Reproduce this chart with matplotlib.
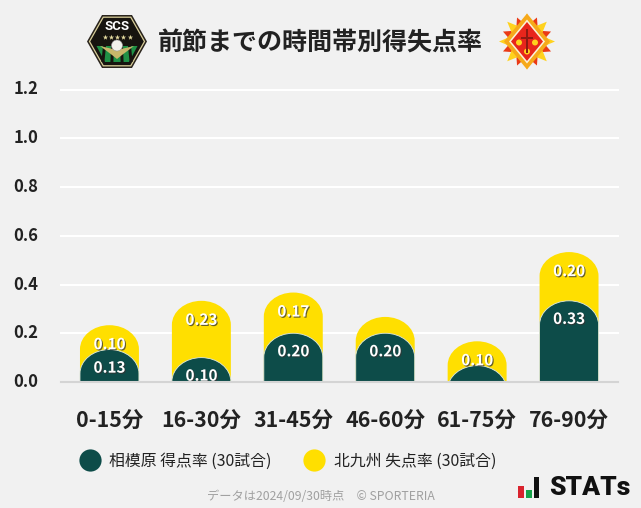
import matplotlib
matplotlib.use("Agg")
import matplotlib.pyplot as plt
import matplotlib.patheffects as pe
from matplotlib.path import Path
from matplotlib.patches import Polygon, Rectangle, Circle
from matplotlib.lines import Line2D
import numpy as np

categories = ["0-15分", "16-30分", "31-45分", "46-60分", "61-75分", "76-90分"]
scored = [0.133, 0.10, 0.20, 0.20, 0.067, 0.333]
conceded = [0.10, 0.233, 0.167, 0.067, 0.10, 0.20]
y_ticks = [0.0, 0.2, 0.4, 0.6, 0.8, 1.0, 1.2]
scored_label = "相模原 得点率 (30試合)"
conceded_label = "北九州 失点率 (30試合)"
title = "前節までの時間帯別得失点率"
footer = "データは2024/09/30時点　© SPORTERIA"

BG = "#f1f1f1"
DARK = "#0d4c49"
YEL = "#ffdf00"
TXT = "#222222"
FONT = ["Noto Sans CJK JP", "DejaVu Sans"]
plt.rcParams["font.family"] = FONT

W, H = 641, 508
fig = plt.figure(figsize=(W / 100, H / 100), dpi=100, facecolor=BG)
ax = fig.add_axes([61 / W, 1 - 382 / H, 557 / W, (382 - 89.5) / H], facecolor="none")

x = np.arange(len(categories))
totals = np.array(scored) + np.array(conceded)
CAP = 24 / (292.5 / 1.2)  # height of the rounded top, in data units


def round_top(bars):
    """Give each bar an elliptical top, keeping it a real bar on the axes."""
    k = 0.5523
    for r in bars:
        c = CAP / r.get_height()
        b = 1 - c
        verts = [(0, 0), (0, b), (0, b + k * c), (0.5 - 0.5 * k, 1), (0.5, 1),
                 (0.5 + 0.5 * k, 1), (1, b + k * c), (1, b), (1, 0), (0, 0)]
        codes = [Path.MOVETO, Path.LINETO, Path.CURVE4, Path.CURVE4, Path.CURVE4,
                 Path.CURVE4, Path.CURVE4, Path.CURVE4, Path.LINETO, Path.CLOSEPOLY]
        p = Path(verts, codes)
        r.get_path = (lambda q: (lambda: q))(p)


bw = 59 / 92
b_y = ax.bar(x, totals, bw, color=YEL, linewidth=0, zorder=2)
b_d = ax.bar(x, scored, bw, color=DARK, edgecolor="#dfe8dc", linewidth=0.6, zorder=3)
round_top(b_y)
round_top(b_d)

shadow = [pe.withSimplePatchShadow(offset=(0.8, -0.8), shadow_rgbFace="#333333", alpha=0.75)]
for xi, top, v in zip(x, totals, conceded):
    if v >= 0.1:
        ax.annotate(f"{v:.2f}", (xi, top), xytext=(0, -13.7), textcoords="offset points",
                    ha="center", va="center", color="white", fontsize=11, fontweight="bold",
                    path_effects=shadow, zorder=4, annotation_clip=False)
for xi, top, v in zip(x, scored, scored):
    if v >= 0.1:
        ax.annotate(f"{v:.2f}", (xi, top), xytext=(0, -13), textcoords="offset points",
                    ha="center", va="center", color="white", fontsize=11, fontweight="bold",
                    path_effects=shadow, zorder=5, annotation_clip=False)

ax.set_xlim(-48.5 / 92, 5 + 49 / 92)
ax.set_ylim(0, 1.2)
ax.set_yticks(y_ticks, [f"{t:.1f}" for t in y_ticks], fontsize=12, fontweight="bold", color=TXT)
ax.set_xticks(x, categories, fontsize=15.4, fontweight="bold", color=TXT)
ax.tick_params(axis="both", length=0)
ax.tick_params(axis="y", pad=16.5)
ax.tick_params(axis="x", pad=20.7)
for lab in ax.get_yticklabels():
    lab.set_va("center")
ax.yaxis.grid(True, color="white", linewidth=1.5, clip_on=False, zorder=1)
ax.set_axisbelow(True)
for s in ("top", "left", "right"):
    ax.spines[s].set_visible(False)
ax.spines["bottom"].set_color("#d4d4d4")
ax.spines["bottom"].set_linewidth(1.5)
ax.spines["bottom"].set_zorder(6)

handles = [Line2D([], [], ls="", marker="o", ms=16, color=DARK, mew=0, label=scored_label),
           Line2D([], [], ls="", marker="o", ms=16, color=YEL, mew=0, label=conceded_label)]
fig.legend(handles=handles, loc="center left", bbox_to_anchor=(77 / W, 1 - 461 / H), ncol=2,
           frameon=False, fontsize=11.4, labelcolor=TXT, handlelength=1.6, handletextpad=0.45,
           columnspacing=1.85, borderpad=0, borderaxespad=0)

fig.text(320.5 / W, 1 - 43 / H, title, ha="center", va="center", fontsize=18, fontweight="bold", color=TXT)
fig.text(321 / W, 1 - 496.5 / H, footer, ha="center", va="center", fontsize=8.8, color="#a0a0a0")

# Overlay in pixel coordinates for the two club crests and the brand mark
ov = fig.add_axes([0, 0, 1, 1], facecolor="none", zorder=-1)
ov.set_xlim(0, W)
ov.set_ylim(H, 0)
ov.axis("off")


def hexagon(cx, cy, rx, ry, inset=0.25):
    return [(cx - rx, cy), (cx - rx * 2 * inset, cy - ry), (cx + rx * 2 * inset, cy - ry),
            (cx + rx, cy), (cx + rx * 2 * inset, cy + ry), (cx - rx * 2 * inset, cy + ry)]


ov.add_patch(Polygon(hexagon(117, 41.5, 30, 26.5), fc="#2a241d", ec="none"))
ov.add_patch(Polygon(hexagon(117, 41.5, 27.5, 24.3), fc="#17140f", ec="#d9cf9a", lw=0.9))
ov.add_patch(Polygon([(96.5, 46), (137.5, 46), (129, 62), (105, 62)], fc="#1f9146", ec="none"))
for sx, dx in ((103, -1.6), (111, -0.6), (120, 0.6), (128, 1.6)):
    ov.add_patch(Polygon([(sx, 46), (sx + 3, 46), (sx + 3 + dx, 62), (sx + dx, 62)], fc="#17140f", ec="none"))
ov.add_patch(Polygon([(100, 46), (117, 50), (134, 46), (122, 55), (117, 59), (112, 55)], fc="#c8b66a", ec="none"))
ov.add_patch(Circle((117, 45.5), 5.5, fc="#f1f1ea", ec="#999999", lw=0.4))
ov.text(117, 26, "SCS", ha="center", va="center", fontsize=9.5, fontweight="bold",
        color="white", family="Roboto")
ov.scatter([104.5, 110.7, 117, 123.3, 129.5], [37] * 5, marker="*", s=16, c="#e6dca0", linewidths=0)

cx, cy = 527, 41.5
for i in range(16):
    a = i * np.pi / 8
    col = "#ffd21e" if i % 2 == 0 else "#ea3a16"
    rr = 28 if i % 2 == 0 else 26
    da = np.pi / 9
    pts = [(cx + rr * np.cos(a), cy + rr * np.sin(a)),
           (cx + 16 * np.cos(a + da), cy + 16 * np.sin(a + da)),
           (cx + 16 * np.cos(a - da), cy + 16 * np.sin(a - da))]
    ov.add_patch(Polygon(pts, fc=col, ec="none", zorder=2 + (i % 2 == 0)))


def diamond(rx, ry, col, z):
    ov.add_patch(Polygon([(cx, cy - ry), (cx + rx, cy), (cx, cy + ry), (cx - rx, cy)], fc=col, ec="none", zorder=z))


diamond(23, 28, "#f6a91a", 4)
diamond(18, 22, "#fbf3d8", 5)
diamond(16, 19.5, "#e8261c", 6)
for bx, by in ((-8, 1), (8, 1), (0, 10)):
    ov.add_patch(Circle((cx + bx, cy + by), 3, fc="#ffd21e", ec="none", zorder=7))
ov.add_patch(Rectangle((cx - 1.2, cy - 13), 2.4, 24, fc="#8e1a12", ec="none", zorder=8))
ov.add_patch(Rectangle((cx - 6, cy - 5), 12, 2, fc="#8e1a12", ec="none", zorder=8))

ov.add_patch(Rectangle((518, 486), 6, 12, fc="#d9232e", ec="none"))
ov.add_patch(Rectangle((526, 490), 5.5, 8, fc="#17a34a", ec="none"))
ov.add_patch(Rectangle((533.5, 477), 5.5, 21, fc="#111111", ec="none"))
ov.text(549, 488, "STATs", ha="left", va="center", fontsize=19, fontweight="black", family="Roboto", color="#111111")

fig.savefig("out.png", dpi=100, facecolor=BG)
